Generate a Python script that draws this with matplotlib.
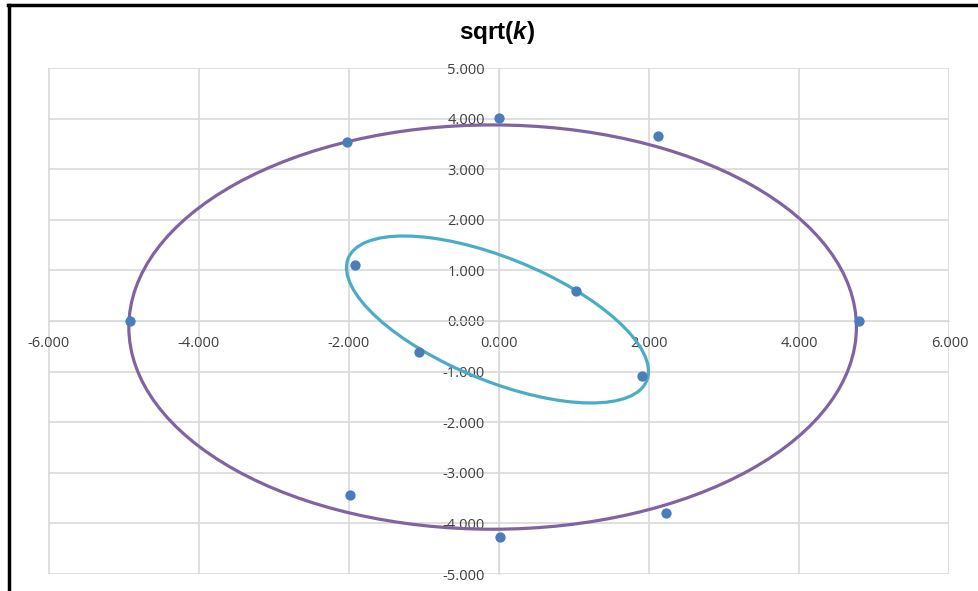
import matplotlib.pyplot as plt
from matplotlib.patches import Ellipse
from matplotlib.lines import Line2D
import numpy as np

plt.rcParams['mathtext.fontset'] = 'custom'
plt.rcParams['mathtext.it'] = 'Liberation Sans:bold:italic'
plt.rcParams['mathtext.rm'] = 'Liberation Sans:bold'

# sample points
pts_x = [0.00, 2.12, -2.03, -1.92, 1.02, -4.91, 4.80, -1.07, 1.91, -1.98, 2.22, 0.01]
pts_y = [4.01, 3.66, 3.54, 1.11, 0.59, 0.00, 0.00, -0.61, -1.09, -3.44, -3.79, -4.27]

# fitted ellipses: outer, inner
ell_cx = [-0.085, -0.02]
ell_cy = [-0.12, 0.03]
ell_w = [9.69, 4.71]
ell_h = [7.99, 2.21]
ell_angle = [0.0, -36.1]
ell_colors = ['#8064A2', '#4BACC6']

ticks = np.arange(-6, 7, 2)
yticks = np.arange(-5, 6, 1)

fig = plt.figure(figsize=(9.79, 5.91), dpi=100)
ax = fig.add_axes([48.5 / 979, 1 - 574 / 591, 901 / 979, 506 / 591])

for cx, cy, w, h, a, c in zip(ell_cx, ell_cy, ell_w, ell_h, ell_angle, ell_colors):
    ax.add_patch(Ellipse((cx, cy), w, h, angle=a, fill=False, edgecolor=c, lw=2.3, zorder=3))

ax.scatter(pts_x, pts_y, s=55, color='#4A7EBB', zorder=4, linewidths=0)

ax.set_xlim(-6, 6)
ax.set_ylim(-5, 5)
ax.set_xticks(ticks)
ax.set_yticks(yticks)
ax.set_xticklabels([f'{t:.3f}' for t in ticks])
ax.set_yticklabels([f'{t:.3f}' for t in yticks])
ax.grid(True, color='#D9D9D9', lw=1.2, zorder=0)
ax.set_axisbelow(True)

ax.spines['left'].set_position('zero')
ax.spines['bottom'].set_position('zero')
ax.spines['left'].set_color('#D9D9D9')
ax.spines['bottom'].set_color('#D9D9D9')
ax.spines['top'].set_visible(False)
ax.spines['right'].set_visible(False)
ax.tick_params(axis='both', length=0, labelsize=10.5, labelcolor='#404040')
ax.tick_params(axis='x', pad=11)
ax.tick_params(axis='y', pad=10)
for lab in ax.get_xticklabels() + ax.get_yticklabels():
    lab.set_fontfamily('Open Sans')

fig.text(497 / 979, 1 - 32 / 591, r'sqrt($\it{k}$)', ha='center', va='center',
         fontsize=17.5, fontweight='bold', fontfamily='Liberation Sans')

# outer black frame lines
fig.add_artist(Line2D([8 / 979, 1], [1 - 5 / 591, 1 - 5 / 591], color='black', lw=2.5,
                      transform=fig.transFigure))
fig.add_artist(Line2D([9 / 979, 9 / 979], [0, 1 - 5 / 591], color='black', lw=2.5,
                      transform=fig.transFigure))

fig.savefig('out.png', dpi=100)
